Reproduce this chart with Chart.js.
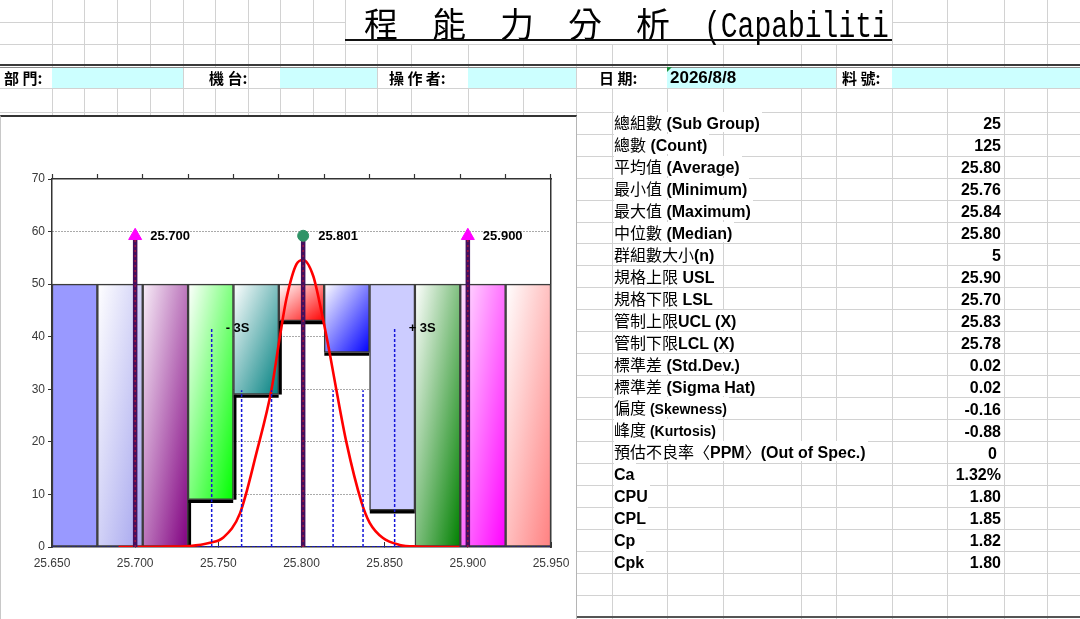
<!DOCTYPE html>
<html><head><meta charset="utf-8">
<script src="https://cdn.jsdelivr.net/npm/chart.js@4.4.1/dist/chart.umd.min.js"></script>
<style>
html,body{margin:0;padding:0;background:#fff;width:1080px;height:619px;overflow:hidden;position:relative;}
#bg{position:absolute;left:0;top:0;}
.t{position:absolute;white-space:nowrap;background:#fff;height:20px;line-height:20px;color:#000;font-family:"Noto Sans CJK TC",sans-serif;font-size:16px;}
.v{position:absolute;white-space:nowrap;height:20px;line-height:20px;text-align:right;color:#000;font:bold 16px "Liberation Sans",Arial,sans-serif;}
.cj{font-family:"Noto Sans CJK TC","Noto Sans CJK SC",sans-serif;font-weight:400;font-size:16px;}
.la{font-family:"Liberation Sans",Arial,sans-serif;font-weight:bold;font-size:16px;}
.hd{font-family:"Noto Sans CJK TC",sans-serif;font-weight:700;font-size:15px;}
.cyan{position:absolute;background:#ccffff;}
#chartBox{position:absolute;left:0;top:115px;width:577px;height:504px;background:#fff;border-top:2px solid #333;border-right:1px solid #b5b5b5;border-left:1px solid #c8c8c8;box-sizing:border-box;}
#c{position:absolute;left:-1px;top:0;}
</style></head><body>
<canvas id="bg" width="1080" height="619"></canvas>

<!-- title -->
<div style="position:absolute;left:346px;top:1px;width:545px;height:42px;background:#fff;"></div>
<div style="position:absolute;left:364px;top:6px;font:400 34px/34px 'Noto Sans CJK TC',sans-serif;white-space:nowrap;">程　能　力　分　析</div>
<div style="position:absolute;left:704px;top:15.5px;font:400 28px/28px 'Liberation Mono',monospace;white-space:nowrap;transform:scaleY(1.3);transform-origin:0 21.5px;">(Capabiliti</div>
<div style="position:absolute;left:345px;top:39px;width:547px;height:2px;background:#111;"></div>

<!-- header row -->
<div class="cyan" style="left:52px;top:68px;width:131px;height:20px;"></div>
<div class="cyan" style="left:280px;top:68px;width:97px;height:20px;"></div>
<div class="cyan" style="left:468px;top:68px;width:108px;height:20px;"></div>
<div class="cyan" style="left:667px;top:68px;width:169px;height:20px;"></div>
<div class="cyan" style="left:892px;top:68px;width:188px;height:20px;"></div>
<div style="position:absolute;left:667px;top:67px;width:0;height:0;border-top:5px solid #1f8f3f;border-right:5px solid transparent;"></div>
<div class="t hd" style="left:4px;top:68px;">部 門:</div>
<div class="t hd" style="left:209px;top:68px;">機 台:</div>
<div class="t hd" style="left:389px;top:68px;">操 作 者:</div>
<div class="t hd" style="left:599px;top:68px;">日 期:</div>
<div class="t hd" style="left:842px;top:68px;">料 號:</div>
<div style="position:absolute;left:670px;top:68px;height:20px;line-height:20px;font:bold 17px/20px 'Liberation Sans',Arial,sans-serif;white-space:nowrap;">2026/8/8</div>

<div id="stats"></div>

<div id="chartBox"><canvas id="c" width="576" height="502"></canvas></div>

<script>
// ---------------- DATA ----------------
const binLabels   = ['1','2','3','4','5','6','7','8','9','10','11'];
const histCounts  = [0, 0, 0, 9, 29, 43, 37, 7, 0, 0, 0];
const bandTop     = 50;
const xTicks      = [25.65, 25.70, 25.75, 25.80, 25.85, 25.90, 25.95];
const yTickMax    = 70;
const yTickStep   = 10;
const specLSL     = 25.700;
const specUSL     = 25.900;
const meanValue   = 25.801;
const markerLevel = 59.2;
const sigmaX      = [25.746, 25.764, 25.782, 25.819, 25.837, 25.856];
const sigmaTop    = [41.7, 29.8, 29.8, 29.8, 29.8, 41.7];
const sigmaTags   = ['- 3S', null, null, null, null, '+ 3S'];
const curveX = [25.690, 25.715, 25.733, 25.745, 25.753, 25.763, 25.773, 25.782, 25.787, 25.791, 25.797, 25.801,
                25.807, 25.812, 25.817, 25.821, 25.827, 25.836, 25.841, 25.849, 25.859, 25.869, 25.895];
const curveY = [0, 0.05, 0.2, 0.8, 1.8, 6.4, 18.0, 30.0, 40.0, 47.3, 53.8, 54.6,
                51.6, 44.8, 36.8, 29.8, 19.9, 8.6, 4.6, 1.7, 0.4, 0.1, 0];
const statLabels = ['總組數 (Sub Group)','總數 (Count)','平均值 (Average)','最小值 (Minimum)','最大值 (Maximum)',
  '中位數 (Median)','群組數大小(n)','規格上限 USL','規格下限 LSL','管制上限UCL (X)','管制下限LCL (X)',
  '標準差 (Std.Dev.)','標準差 (Sigma Hat)','偏度 (Skewness)','峰度 (Kurtosis)','預估不良率〈PPM〉(Out of Spec.)',
  'Ca','CPU','CPL','Cp','Cpk'];
const statValues = ['25','125','25.80','25.76','25.84','25.80','5','25.90','25.70','25.83','25.78',
  '0.02','0.02','-0.16','-0.88','0','1.32%','1.80','1.85','1.82','1.80'];

// ---------------- STYLES ----------------
const smallLatinRows = [13, 14];
const barFill = [
  {solid:'#9999ff'},
  {from:'#ffffff', to:'#a4a4ee'},
  {from:'#f8eef8', to:'#800080'},
  {from:'#ffffff', to:'#00ff00'},
  {from:'#ffffff', to:'#008080'},
  {from:'#ffffff', to:'#ff0000'},
  {from:'#ffffff', to:'#0000ff'},
  {solid:'#ccccff'},
  {from:'#ffffff', to:'#008000'},
  {from:'#ffe4ff', to:'#ff00ff'},
  {from:'#ffffff', to:'#ff8080'}
];

// ---------------- spreadsheet background ----------------
(function(){
  const g = document.getElementById('bg').getContext('2d');
  const cols = [52,84,117,150,183,215,248,280,313,345,377,411,468,523,576,612,667,723,801,836,892,947,1004,1047];
  const rowH = 21.96;
  g.strokeStyle = '#d2d2d2'; g.lineWidth = 1;
  function line(x0,y0,x1,y1){ g.beginPath(); g.moveTo(x0,y0); g.lineTo(x1,y1); g.stroke(); }
  cols.forEach(x => {
    const px = Math.round(x) + 0.5;
    const inTitle = x > 345 && x < 892;
    line(px, inTitle ? 44 : 0, px, 619);
  });
  const rows = [21.7, 44, 88.3];
  for (let k = 0; k <= 22; k++) rows.push(111.7 + k*rowH);
  rows.forEach(y => {
    const py = Math.round(y) + 0.5;
    if (Math.abs(y - 21.7) < 0.1) { line(0, py, 345, py); line(892, py, 1080, py); }
    else line(0, py, 1080, py);
  });
  g.fillStyle = '#3a3a3a'; g.fillRect(0, 64, 1080, 2);
  g.fillStyle = '#8a8a8a'; g.fillRect(0, 67, 1080, 1);
  g.fillStyle = '#555'; g.fillRect(576, 616, 504, 2);

  // stats table text
  const host = document.getElementById('stats');
  statLabels.forEach((lab, k) => {
    const rowTop = 111.7 + k*rowH;
    const d = document.createElement('div');
    d.className = 't';
    d.style.left = '614px'; d.style.top = (rowTop + 0.3) + 'px'; d.style.paddingRight = '2px';
    const runs = lab.match(/[\x00-\x7F]+|[^\x00-\x7F]+/g);
    runs.forEach(r => {
      const s = document.createElement('span');
      if (/^[\x00-\x7F]+$/.test(r)) {
        s.className = 'la';
        if (smallLatinRows.includes(k)) s.style.fontSize = '14px';
      } else s.className = 'cj';
      s.textContent = r; d.appendChild(s);
    });
    host.appendChild(d);
    const v = document.createElement('div');
    v.className = 'v';
    v.style.left = '940px'; v.style.width = (statValues[k] === '0' ? '57px' : '61px');
    v.style.top = (rowTop + 3.4) + 'px';
    v.textContent = statValues[k];
    host.appendChild(v);
  });
})();

// ---------------- chart ----------------
function barGradient(c){
  const i = c.dataIndex;
  if (i === undefined) return '#cccccc';
  const f = barFill[i];
  if (f.solid) return f.solid;
  const chart = c.chart, xs = chart.scales.x, ys = chart.scales.y;
  if (!xs || !ys || !chart.chartArea) return f.to;
  const half = xs.width / binLabels.length / 2;
  const cx = xs.getPixelForValue(i);
  const x0 = cx - half, x1 = cx + half;
  const y0 = ys.getPixelForValue(bandTop), y1 = ys.getPixelForValue(histCounts[i]);
  const w = Math.max(1, x1 - x0), h = Math.max(1, y1 - y0);
  const ax = 0.5 / w, ay = 0.5 / h, n = ax*ax + ay*ay;
  const grad = chart.ctx.createLinearGradient(x0, y0, x0 + ax/n, y0 + ay/n);
  grad.addColorStop(0, f.from); grad.addColorStop(1, f.to);
  return grad;
}

const stepEdges = {
  id: 'stepEdges',
  afterDatasetDraw(chart, args){
    const ds = chart.data.datasets[args.index];
    if (!ds.stepEdges) return;
    const ctx = chart.ctx;
    let prevY = chart.scales.y.getPixelForValue(0);
    ctx.save(); ctx.strokeStyle = '#000'; ctx.lineWidth = 3;
    args.meta.data.forEach(el => {
      const left = el.x - el.width/2;
      if (el.y < prevY - 0.5) { ctx.beginPath(); ctx.moveTo(left + 1.5, prevY); ctx.lineTo(left + 1.5, el.y); ctx.stroke(); }
      prevY = el.y;
    });
    ctx.restore();
  }
};
const tagPlugin = {
  id: 'tags',
  afterDatasetsDraw(chart){
    const ctx = chart.ctx;
    chart.data.datasets.forEach((ds, i) => {
      if (!ds.tags) return;
      const meta = chart.getDatasetMeta(i);
      ctx.save();
      ctx.font = 'bold 13px "Liberation Sans", Arial, sans-serif';
      ctx.fillStyle = '#000'; ctx.textBaseline = 'middle'; ctx.textAlign = 'left';
      meta.data.forEach((el, j) => { const t = ds.tags[j]; if (t) ctx.fillText(t, el.x + ds.tagDx, el.y + 1); });
      ctx.restore();
    });
  }
};

const specVals = [specLSL, meanValue, specUSL];
const specPts = specVals.flatMap(v => [{x:v, y:0}, {x:v, y:markerLevel}, {x:v, y:null}]);
const sigmaPts = sigmaX.flatMap((v, k) => [{x:v, y:0}, {x:v, y:sigmaTop[k]}, {x:v, y:null}]);
const sigmaPtTags = sigmaTags.flatMap(t => [null, t, null]);
const curvePts = curveX.map((v, k) => ({x:v, y:curveY[k]}));

const FONT = '"Liberation Sans", Arial, sans-serif';
new Chart(document.getElementById('c'), {
  type: 'bar',
  data: {
    labels: binLabels,
    datasets: [
      { type:'line', xAxisID:'x2', yAxisID:'y', order:10,
        data:[{x:xTicks[0], y:0}, {x:xTicks[xTicks.length-1], y:0}],
        borderColor:'#1010e0', borderWidth:1.5, borderDash:[3,2], pointRadius:0 },
      { type:'bar', xAxisID:'x', yAxisID:'y', order:6, grouped:false, stepEdges:true,
        data: histCounts, backgroundColor:'rgba(0,0,0,0)', borderColor:'#000',
        borderWidth:{top:3, left:0, right:0, bottom:0}, borderSkipped:false,
        barPercentage:1, categoryPercentage:1 },
      { type:'bar', xAxisID:'x', yAxisID:'y', order:5, grouped:false,
        data: histCounts.map(h => [h, bandTop]), backgroundColor: barGradient,
        borderColor:'#3c3c3c', borderWidth:1.5, borderSkipped:false,
        barPercentage:1, categoryPercentage:1 },
      { type:'line', xAxisID:'x2', yAxisID:'y', order:4,
        data: curvePts, borderColor:'#ff0000', borderWidth:2.6, pointRadius:0,
        cubicInterpolationMode:'monotone' },
      { type:'line', xAxisID:'x2', yAxisID:'y', order:3,
        data: sigmaPts, borderColor:'#1515d8', borderWidth:1.5, borderDash:[3,2], pointRadius:0,
        spanGaps:false, tags: sigmaPtTags, tagDx:14 },
      { type:'line', xAxisID:'x2', yAxisID:'y', order:2,
        data: specPts, borderColor:'#44105e', borderWidth:4.5, pointRadius:0, spanGaps:false },
      { type:'line', xAxisID:'x2', yAxisID:'y', order:1.5,
        data: specPts, borderColor:'#b01438', borderWidth:1.3, borderDash:[2,3], pointRadius:0, spanGaps:false },
      { type:'line', xAxisID:'x2', yAxisID:'y', order:1, showLine:false,
        data: [{x:specLSL, y:markerLevel}, {x:specUSL, y:markerLevel}],
        pointStyle:'triangle', pointRadius:7.5, pointBackgroundColor:'#ff00ff', pointBorderColor:'#ff00ff', pointBorderWidth:1,
        tags:[specLSL.toFixed(3), specUSL.toFixed(3)], tagDx:15 },
      { type:'line', xAxisID:'x2', yAxisID:'y', order:0, showLine:false,
        data: [{x:meanValue, y:markerLevel}],
        pointStyle:'circle', pointRadius:5.5, pointBackgroundColor:'#2f9467', pointBorderColor:'#2f9467', pointBorderWidth:1,
        tags:[meanValue.toFixed(3)], tagDx:15 }
    ]
  },
  options: {
    responsive:false, animation:false, events:[],
    layout:{ padding:{left:0, right:25, top:56, bottom:42}, autoPadding:false },
    plugins:{ legend:{display:false}, tooltip:{enabled:false} },
    scales:{
      x:{ type:'category', position:'top', offset:true,
          grid:{offset:true, drawOnChartArea:false, drawTicks:true, tickLength:5, tickColor:'#333', tickWidth:1.2},
          ticks:{display:false}, border:{color:'#333', width:1.5},
          afterFit(s){ s.height = 6; s.paddingLeft = 0; s.paddingRight = 0; } },
      x2:{ type:'linear', position:'bottom', offset:false, min:xTicks[0], max:xTicks[xTicks.length-1],
          afterBuildTicks(s){ s.ticks = xTicks.map(v => ({value:v})); },
          ticks:{ callback:v => Number(v).toFixed(3), font:{family:FONT, size:12}, color:'#3a3a3a',
                  padding:14, maxRotation:0, autoSkip:false },
          grid:{ offset:false, drawOnChartArea:false, drawTicks:true, tickLength:-5, tickColor:'#333', tickWidth:1 },
          border:{color:'#333', width:1.5},
          afterFit(s){ s.height = 30; s.paddingLeft = 0; s.paddingRight = 0; } },
      y:{ type:'linear', position:'left', min:0, max:yTickMax,
          ticks:{ stepSize:yTickStep, font:{family:FONT, size:12}, color:'#3a3a3a', padding:3 },
          grid:{ color:c => (c.tick && (c.tick.value === 0 || c.tick.value === yTickMax)) ? 'rgba(0,0,0,0)' : '#555',
                 lineWidth:1, tickColor:'#333', tickLength:4, drawTicks:true },
          border:{ color:'#333', width:1.5, dash:[1,2] },
          afterFit(s){ s.width = 52; s.paddingTop = 0; s.paddingBottom = 0; } },
      y2:{ type:'linear', position:'right', min:0, max:yTickMax, display:true,
          grid:{display:false}, ticks:{display:false}, border:{color:'#333', width:1.5},
          afterFit(s){ s.width = 0; s.paddingTop = 0; s.paddingBottom = 0; } }
    }
  },
  plugins:[stepEdges, tagPlugin]
});
</script>
</body></html>
